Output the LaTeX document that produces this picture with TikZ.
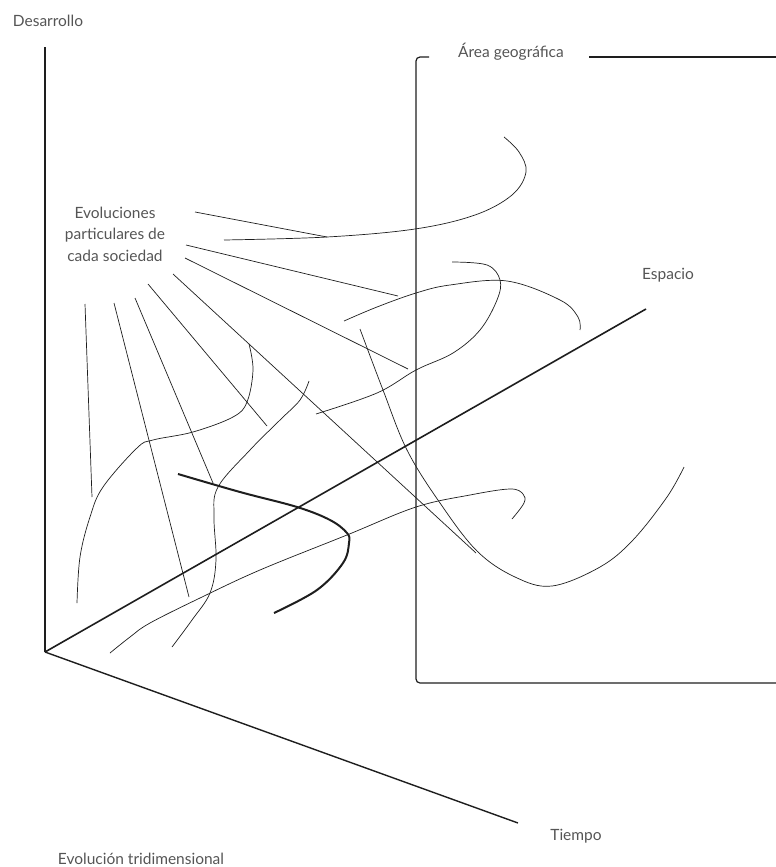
\documentclass[tikz,border=0pt]{standalone}
\usepackage{fontspec}
\setmainfont{Lato}
\usepackage{tikz}
\usetikzlibrary{calc,positioning}
\definecolor{evText}{RGB}{85,85,85}
\definecolor{evLine}{RGB}{30,30,30}

\begin{document}
\begin{tikzpicture}[x=1pt,y=-1pt,
  axisline/.style={evLine, line width=1.4pt},
  thinline/.style={evLine, line width=0.7pt},
  thickcurve/.style={evLine, line width=2pt},
  lbl/.style={text=evText, font=\fontsize{15.5}{21.5}\selectfont, inner sep=0pt}]
\useasboundingbox (0,0) rectangle (776,867);
% axes
\coordinate (O) at (45,652);
\coordinate (dtop) at (45,47);
\coordinate (etop) at (646,309);
\coordinate (tend) at (518,823);
\draw[axisline] (O) -- (dtop);
\draw[axisline, line width=1.6pt] (O) -- (etop);
\draw[axisline] (O) -- (tend);
\node[lbl] (desarrollo) at (48,21) {Desarrollo};
\node[lbl] (espacio) at (668,275) {Espacio};
\node[lbl] (tiempo) at (576,836) {Tiempo};
\node[lbl] (titulo) at (141,859) {Evolución tridimensional};
% area geografica
\node[lbl] (area) at (511,52) {Área geográfica};
\draw[axisline, line width=1.2pt, rounded corners=4pt] (429,57) -- (416,57) -- (416,683) -- (776,683);
\draw[axisline, line width=1.2pt] (589,57) -- (776,57);
% label and leader lines
\node[lbl, align=center] (evol) at (115,234) {Evoluciones\\particulares de\\cada sociedad};
\foreach \xa/\ya/\xb/\yb in {195/212/327/237, 186/245/398/296, 185/258/408/369,
    173/274/476/553, 148/284/267/426, 135/298/213/483, 114/303/189/597, 85/304/92/497}
  \draw[thinline] (\xa,\ya) -- (\xb,\yb);
% particular evolutions
\draw[thinline] plot[smooth, tension=0.6] coordinates {(224,240) (327,237) (415,229) (475,215) (512,195) (526,172) (519,152) (504,137)};
\draw[thinline] plot[smooth, tension=0.6] coordinates {(344,321) (377,307) (416,293) (450,285) (507,281) (560,300) (578,317) (580,330)};
\draw[thinline] plot[smooth, tension=0.6] coordinates {(452,262) (487,265) (500,280) (497,300) (480,330) (453,353) (416,370) (377,393) (316,414)};
\draw[thinline] plot[smooth, tension=0.6] coordinates {(360,329) (383,390) (407,450) (440,503) (477,551) (515,577) (552,586) (600,567) (633,540) (667,497) (684,467)};
\draw[thinline] plot[smooth, tension=0.6] coordinates {(309,381) (300,400) (280,420) (250,450) (218,487) (214,517) (216,560) (210,593) (192,620) (172,647)};
\draw[thinline] plot[smooth, tension=0.6] coordinates {(249,344) (253,370) (247,402) (233,417) (193,432) (153,440) (137,448) (103,487) (90,517) (80,557) (77,603)};
\draw[thinline] plot[smooth, tension=0.6] coordinates {(110,653) (130,637) (150,623) (200,598) (260,570) (347,535) (416,507) (470,495) (510,489) (523,494) (524,503) (512,519)};
\draw[thickcurve] plot[smooth, tension=0.6] coordinates {(178,474) (240,492) (297,507) (330,520) (347,533) (349,543) (343,563) (317,590) (274,613)};
\end{tikzpicture}
\end{document}
